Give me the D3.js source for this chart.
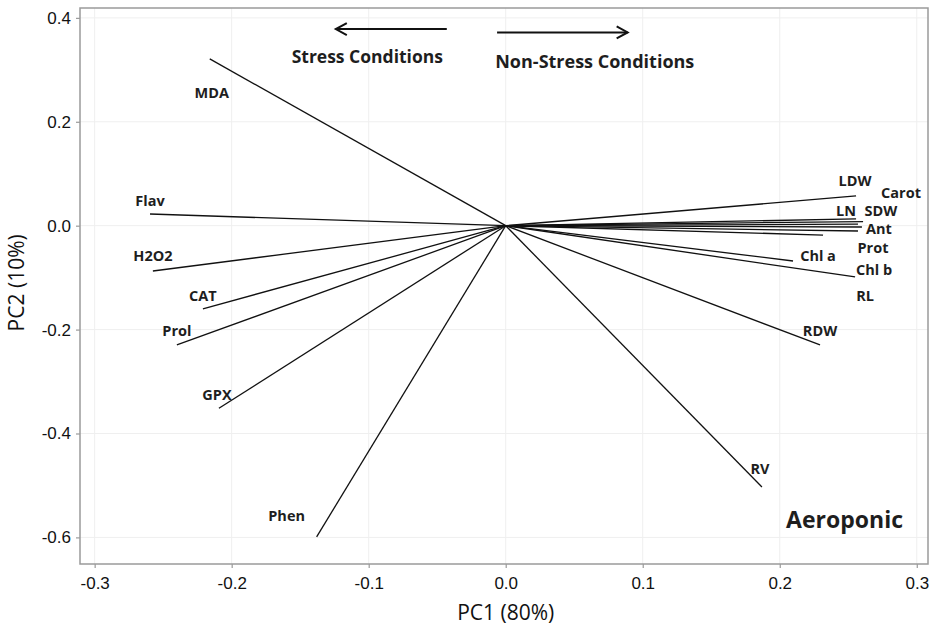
<!DOCTYPE html>
<html>
<head>
<meta charset="utf-8">
<script src="https://cdn.jsdelivr.net/npm/d3@7"></script>
<style>
    body { margin: 0; background: #fff; }
    svg { display: block; font-family: "Open Sans", "Noto Sans", sans-serif; }
    .frame { fill: none; stroke: #9a9a9a; stroke-width: 1.5; }
    .grid line { stroke: #efefef; stroke-width: 1; }
    .axis path { display: none; }
    .axis line { stroke: #9a9a9a; stroke-width: 1.2; }
    .axis text { font-size: 17px; fill: #111; }
    .vec { stroke: #111; stroke-width: 1.3; }
    .lbl { font-size: 14.5px; font-weight: 700; fill: #1e1e1e; }
</style>
</head>
<body>
<script>
// loadings
let variables = ["MDA", "Flav", "H2O2", "CAT", "Prol", "GPX", "Phen", "RV", "RDW",
    "Chl b", "Chl a", "RL", "Prot", "Ant", "SDW", "Carot", "LN", "LDW"];
let pc1 = [-0.216, -0.2596, -0.2575, -0.221, -0.240, -0.2093, -0.138, 0.187, 0.2294,
    0.255, 0.2097, 0.2316, 0.2571, 0.260, 0.2571, 0.2608, 0.2557, 0.2557];
let pc2 = [0.321, 0.0225, -0.0872, -0.160, -0.2296, -0.3514, -0.599, -0.503, -0.2296,
    -0.0987, -0.068, -0.018, -0.0102, -0.0025, 0.003, 0.008, 0.013, 0.0572];

let xTicks = [-0.3, -0.2, -0.1, 0.0, 0.1, 0.2, 0.3];
let yTicks = [0.4, 0.2, 0.0, -0.2, -0.4, -0.6];

let xTitle = "PC1 (80%)",
    yTitle = "PC2 (10%)",
    panelTitle = "Aeroponic";

let width = 935,
    height = 630,
    margin = {top: 8, right: 7, bottom: 66, left: 80};

// label nudges (px) from each vector tip, as in the original layout
let nudge = {
    "MDA": [2, 34], "Flav": [0, -13], "H2O2": [0, -15], "CAT": [0, -13],
    "Prol": [0, -14], "GPX": [-2, -14], "Phen": [-30, -21], "RV": [-2, -19],
    "RDW": [0, -14], "Chl b": [19, -7], "Chl a": [25, -6], "RL": [42, 60],
    "Prot": [15, 17], "Ant": [17, 2], "SDW": [23, -14], "Carot": [38, -29],
    "LN": [-10, -8], "LDW": [-1, -15]
};

// plain hyphen for negatives, like the original
let fmt = function(d) { return d3.format(".1f")(d).replace("\u2212", "-"); };

let x = d3.scaleLinear()
    .domain([-0.3107, 0.3082])
    .range([margin.left, width - margin.right]);

let y = d3.scaleLinear()
    .domain([-0.6512, 0.419])
    .range([height - margin.bottom, margin.top]);

let svg = d3.select("body")
    .append("svg")
    .attr("width", width)
    .attr("height", height);

/* ------- GRID -------*/
let grid = svg.append("g").attr("class", "grid");
grid.selectAll("line.gx")
    .data(xTicks)
    .enter().append("line")
    .attr("class", "gx")
    .attr("x1", d => x(d)).attr("x2", d => x(d))
    .attr("y1", margin.top).attr("y2", height - margin.bottom);
grid.selectAll("line.gy")
    .data(yTicks)
    .enter().append("line")
    .attr("class", "gy")
    .attr("y1", d => y(d)).attr("y2", d => y(d))
    .attr("x1", margin.left).attr("x2", width - margin.right);

/* ------- AXES -------*/
svg.append("g")
    .attr("class", "axis")
    .attr("transform", "translate(0," + (height - margin.bottom) + ")")
    .call(d3.axisBottom(x).tickValues(xTicks).tickSize(4).tickPadding(6).tickFormat(fmt))
    .selectAll("text").attr("dy", "0.9em");

svg.append("g")
    .attr("class", "axis")
    .attr("transform", "translate(" + margin.left + ",0)")
    .call(d3.axisLeft(y).tickValues(yTicks).tickSize(4).tickPadding(5).tickFormat(fmt));

svg.append("rect")
    .attr("class", "frame")
    .attr("x", margin.left)
    .attr("y", margin.top)
    .attr("width", width - margin.left - margin.right)
    .attr("height", height - margin.top - margin.bottom);

svg.append("text")
    .attr("x", x(0))
    .attr("y", 620)
    .attr("text-anchor", "middle")
    .style("font-size", "21px")
    .style("fill", "#111")
    .text(xTitle);

svg.append("text")
    .attr("transform", "translate(24," + y(-0.11) + ") rotate(-90)")
    .attr("text-anchor", "middle")
    .style("font-size", "21px")
    .style("fill", "#111")
    .text(yTitle);

/* ------- LOADING VECTORS -------*/
let loadings = variables.map(function(v, i) {
    return {label: v, pc1: pc1[i], pc2: pc2[i]};
});

svg.append("g")
    .selectAll("line")
    .data(loadings)
    .enter().append("line")
    .attr("class", "vec")
    .attr("x1", x(0)).attr("y1", y(0))
    .attr("x2", d => x(d.pc1))
    .attr("y2", d => y(d.pc2));

svg.append("g")
    .selectAll("text")
    .data(loadings)
    .enter().append("text")
    .attr("class", "lbl")
    .attr("text-anchor", "middle")
    .attr("dominant-baseline", "central")
    .attr("x", d => x(d.pc1) + nudge[d.label][0])
    .attr("y", d => y(d.pc2) + nudge[d.label][1])
    .text(d => d.label);

/* ------- DIRECTION ARROWS -------*/
function arrow(x1, x2, yy) {
    let dir = x2 > x1 ? -1 : 1;
    let g = svg.append("g")
        .style("stroke", "#111")
        .style("stroke-width", 2)
        .style("fill", "none");
    g.append("line")
        .attr("x1", x1).attr("x2", x2)
        .attr("y1", yy).attr("y2", yy);
    g.append("polyline")
        .attr("points", [[x2 + dir * 11, yy - 6], [x2, yy], [x2 + dir * 11, yy + 6]].join(" "));
}

arrow(x(-0.043), x(-0.124), y(0.3785));
arrow(x(-0.0063), x(0.089), y(0.372));

svg.append("text")
    .attr("x", x(-0.101))
    .attr("y", 63)
    .attr("text-anchor", "middle")
    .style("font-size", "17.5px")
    .style("font-weight", 700)
    .style("fill", "#1e1e1e")
    .text("Stress Conditions");

svg.append("text")
    .attr("x", x(0.065))
    .attr("y", 68)
    .attr("text-anchor", "middle")
    .style("font-size", "18px")
    .style("font-weight", 700)
    .style("fill", "#1e1e1e")
    .text("Non-Stress Conditions");

svg.append("text")
    .attr("x", 903)
    .attr("y", 528)
    .attr("text-anchor", "end")
    .style("font-size", "23px")
    .style("font-weight", 700)
    .style("fill", "#1e1e1e")
    .text(panelTitle);
</script>
</body>
</html>
